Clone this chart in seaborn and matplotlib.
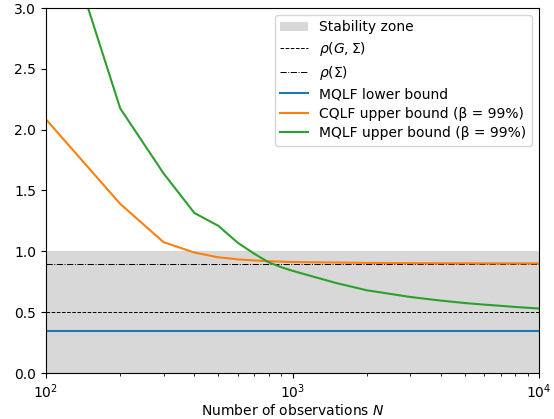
import matplotlib
matplotlib.use("Agg")
import matplotlib.pyplot as plt
import seaborn as sns
import pandas as pd
import numpy as np
from matplotlib.patches import Patch
from matplotlib.lines import Line2D

N = [100, 200, 300, 400, 500, 600, 700, 800, 900, 1000,
     1500, 2000, 3000, 4000, 5000, 6000, 7000, 8000, 10000]
mqlf_lower = [0.345] * len(N)
cqlf_upper = [2.085, 1.39, 1.075, 0.99, 0.951, 0.934, 0.925, 0.919, 0.915, 0.912,
              0.908, 0.905, 0.903, 0.902, 0.902, 0.901, 0.901, 0.901, 0.901]
mqlf_upper = [4.08, 2.175, 1.64, 1.315, 1.21, 1.07, 0.98, 0.91, 0.87, 0.84,
              0.74, 0.68, 0.625, 0.595, 0.575, 0.562, 0.552, 0.543, 0.53]
rho_G_sigma = 0.5
rho_sigma = 0.9
stability_top = 1.0

labels = ["MQLF lower bound", "CQLF upper bound (β = 99%)", "MQLF upper bound (β = 99%)"]
colors = ["#1f77b4", "#ff7f0e", "#2ca02c"]

df = pd.DataFrame({
    "N": N * 3,
    "value": mqlf_lower + cqlf_upper + mqlf_upper,
    "series": sum([[l] * len(N) for l in labels], []),
})

fig = plt.figure(figsize=(5.54, 4.19), dpi=100)
ax = fig.add_axes([46/554, 1 - 373/419, (539-46)/554, (373-8)/419])

ax.axhspan(0, stability_top, color="#d8d8d8", lw=0, zorder=0)
ax.axhline(rho_G_sigma, color="k", ls="--", lw=0.7, zorder=1)
ax.axhline(rho_sigma, color="k", ls="-.", lw=0.7, zorder=1)

sns.lineplot(data=df, x="N", y="value", hue="series", hue_order=labels,
             palette=colors, ax=ax, legend=False, lw=1.5, zorder=2)

ax.set_xscale("log")
ax.set_xlim(100, 10000)
ax.set_ylim(0, 3)
ax.set_yticks(np.arange(0, 3.01, 0.5))
ax.set_xlabel("Number of observations $N$", labelpad=1)
ax.set_ylabel("")

handles = [
    Patch(facecolor="#d8d8d8", edgecolor="none", label="Stability zone"),
    Line2D([], [], color="k", ls="--", lw=0.7, label=r"$\rho(G,\Sigma)$"),
    Line2D([], [], color="k", ls="-.", lw=0.7, label=r"$\rho(\Sigma)$"),
] + [Line2D([], [], color=c, lw=1.5, label=l) for c, l in zip(colors, labels)]
ax.legend(handles=handles, loc="upper right", labelspacing=0.4)

fig.savefig("out.png", dpi=100)
